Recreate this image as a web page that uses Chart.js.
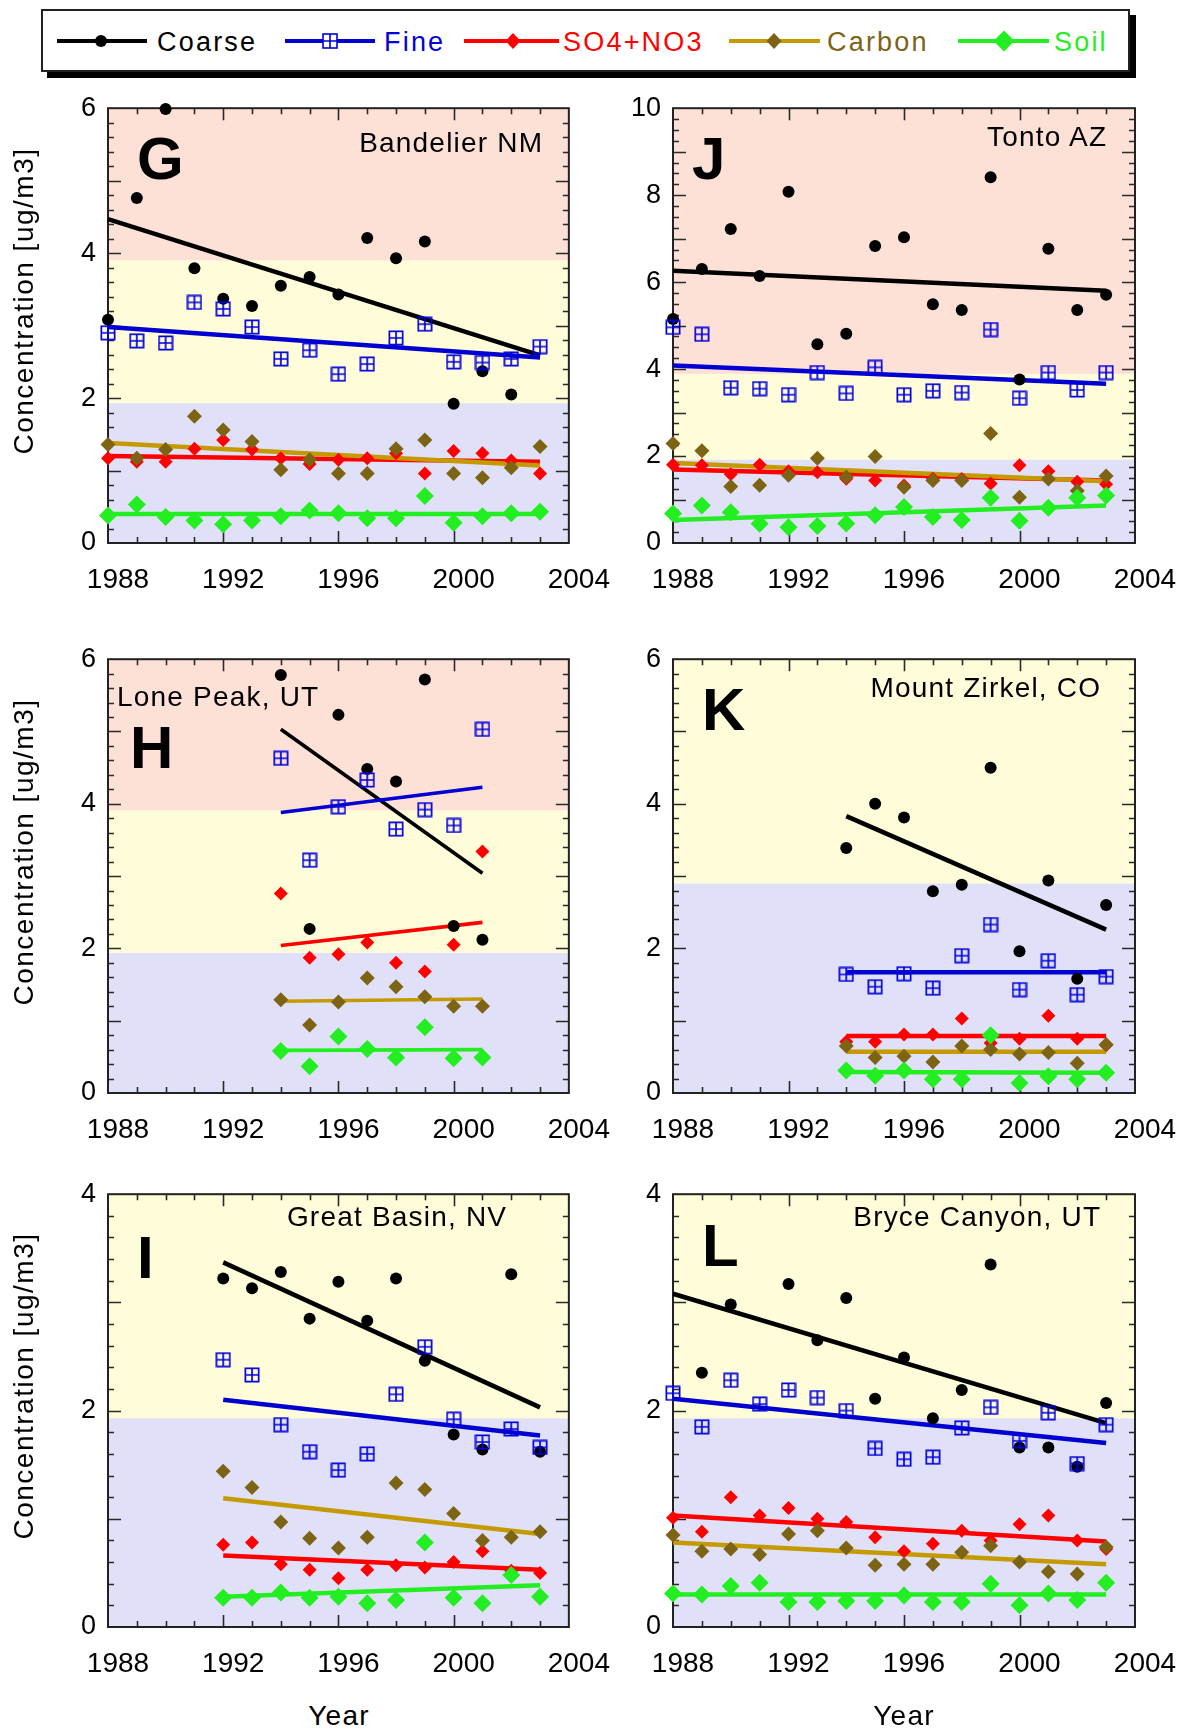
<!DOCTYPE html>
<html><head><meta charset="utf-8">
<script src="https://cdn.jsdelivr.net/npm/chart.js@4.4.1/dist/chart.umd.min.js"></script>
<style>
html,body{margin:0;padding:0;background:#fff;}
body{width:1187px;height:1733px;position:relative;overflow:hidden;font-family:'Liberation Sans',Arial,Helvetica,sans-serif;}
canvas{position:absolute;}
.t{position:absolute;white-space:nowrap;line-height:1;}
#legendBox{position:absolute;left:41px;top:9px;width:1089px;height:63px;box-sizing:border-box;border:2px solid #222;background:#fff;box-shadow:6px 6px 0 0 #000;}
.lline{position:absolute;height:4px;}
svg.mk{position:absolute;overflow:visible;}
</style></head><body>
<div id="legendBox"></div>
<canvas id="cG"></canvas><canvas id="cJ"></canvas>
<canvas id="cH"></canvas><canvas id="cK"></canvas>
<canvas id="cI"></canvas><canvas id="cL"></canvas>
<script>
// ---------------- DATA ----------------
const SERIES = ['Coarse', 'Fine', 'SO4+NO3', 'Carbon', 'Soil'];
const XTICKS = [1988, 1992, 1996, 2000, 2004];

// G - Bandelier NM
const G_years  = [1988,1989,1990,1991,1992,1993,1994,1995,1996,1997,1998,1999,2000,2001,2002,2003];
const G_coarse = [3.08,4.76,5.99,3.79,3.37,3.27,3.55,3.67,3.43,4.21,3.93,4.16,1.92,2.37,2.05,null];
const G_fine   = [2.90,2.79,2.76,3.32,3.23,2.98,2.54,2.66,2.33,2.47,2.83,3.02,2.50,2.49,2.54,2.71];
const G_so4    = [1.17,1.12,1.12,1.30,1.42,1.29,1.17,1.09,1.15,1.17,1.24,0.96,1.27,1.24,1.14,0.96];
const G_carbon = [1.36,1.17,1.29,1.75,1.56,1.40,1.01,1.15,0.96,0.96,1.30,1.42,0.96,0.90,1.04,1.33];
const G_soil   = [0.38,0.53,0.36,0.31,0.26,0.31,0.37,0.45,0.41,0.34,0.34,0.65,0.28,0.37,0.41,0.43];
const G_trendYears = [1988, 2003];
const G_trendStart = [4.47, 2.98, 1.20, 1.38, 0.40];
const G_trendEnd   = [2.59, 2.56, 1.12, 1.07, 0.40];
const G_bands = [1.93, 3.90];

// J - Tonto AZ
const J_years  = [1988,1989,1990,1991,1992,1993,1994,1995,1996,1997,1998,1999,2000,2001,2002,2003];
const J_coarse = [5.15,6.30,7.22,6.14,8.08,4.57,4.81,6.83,7.03,5.49,5.36,8.41,3.76,6.77,5.36,5.71];
const J_fine   = [4.96,4.80,3.57,3.55,3.41,3.92,3.44,4.04,3.41,3.50,3.46,4.91,3.33,3.92,3.52,3.92];
const J_so4    = [1.80,1.79,1.58,1.80,1.65,1.63,1.48,1.44,1.32,1.48,1.47,1.37,1.79,1.65,1.41,1.35];
const J_carbon = [2.29,2.12,1.30,1.33,1.56,1.95,1.52,1.99,1.28,1.44,1.44,2.52,1.05,1.47,1.20,1.54];
const J_soil   = [0.68,0.86,0.71,0.44,0.36,0.39,0.45,0.64,0.83,0.60,0.53,1.04,0.51,0.81,1.04,1.09];
const J_trendYears = [1988, 2003];
const J_trendStart = [6.26, 4.08, 1.69, 1.84, 0.53];
const J_trendEnd   = [5.80, 3.66, 1.44, 1.42, 0.86];
const J_bands = [1.92, 3.89];

// H - Lone Peak, UT
const H_years  = [1994,1995,1996,1997,1998,1999,2000,2001];
const H_coarse = [5.78,2.27,5.23,4.48,4.31,5.72,2.31,2.12];
const H_fine   = [4.63,3.22,3.96,4.33,3.65,3.92,3.70,5.03];
const H_so4    = [2.76,1.87,1.92,2.08,1.80,1.68,2.05,3.34];
const H_carbon = [1.29,0.94,1.26,1.59,1.47,1.33,1.20,1.20];
const H_soil   = [0.58,0.37,0.78,0.61,0.49,0.91,0.48,0.49];
const H_trendYears = [1994, 2001];
const H_trendStart = [5.03, 3.88, 2.04, 1.27, 0.59];
const H_trendEnd   = [3.04, 4.23, 2.36, 1.30, 0.60];
const H_bands = [1.94, 3.91];

// K - Mount Zirkel, CO
const K_years  = [1994,1995,1996,1997,1998,1999,2000,2001,2002,2003];
const K_coarse = [3.39,4.00,3.81,2.79,2.88,4.50,1.96,2.94,1.58,2.60];
const K_fine   = [1.64,1.47,1.65,1.45,1.90,2.33,1.43,1.83,1.36,1.61];
const K_so4    = [0.71,0.71,0.81,0.81,1.03,0.69,0.75,1.07,0.75,0.66];
const K_carbon = [0.65,0.49,0.51,0.43,0.65,0.60,0.54,0.56,0.41,0.67];
const K_soil   = [0.31,0.24,0.31,0.19,0.19,0.80,0.14,0.23,0.19,0.28];
const K_trendYears = [1994, 2003];
const K_trendStart = [3.83, 1.67, 0.79, 0.57, 0.29];
const K_trendEnd   = [2.26, 1.67, 0.79, 0.57, 0.28];
const K_bands = [2.90];

// I - Great Basin, NV
const I_years  = [1992,1993,1994,1995,1996,1997,1998,1999,2000,2001,2002,2003];
const I_coarse = [3.22,3.13,3.28,2.85,3.19,2.83,3.22,2.46,1.78,1.64,3.26,1.62];
const I_fine   = [2.47,2.33,1.87,1.62,1.45,1.60,2.15,2.59,1.92,1.71,1.83,1.66];
const I_so4    = [0.76,0.78,0.58,0.53,0.45,0.53,0.57,0.55,0.60,0.70,0.52,0.50];
const I_carbon = [1.44,1.29,0.97,0.82,0.73,0.83,1.33,1.27,1.05,0.80,0.83,0.88];
const I_soil   = [0.27,0.27,0.32,0.27,0.28,0.22,0.25,0.78,0.27,0.22,0.48,0.28];
const I_trendYears = [1992, 2003];
const I_trendStart = [3.37, 2.10, 0.66, 1.19, 0.28];
const I_trendEnd   = [2.03, 1.77, 0.53, 0.86, 0.385];
const I_bands = [1.93];

// L - Bryce Canyon, UT
const L_years  = [1988,1989,1990,1991,1992,1993,1994,1995,1996,1997,1998,1999,2000,2001,2002,2003];
const L_coarse = [null,2.35,2.98,null,3.17,2.65,3.04,2.11,2.49,1.93,2.19,3.35,1.66,1.66,1.48,2.07];
const L_fine   = [2.16,1.85,2.28,2.06,2.19,2.12,2.00,1.65,1.55,1.57,1.84,2.03,1.72,1.98,1.51,1.87];
const L_so4    = [1.01,0.88,1.20,1.03,1.10,1.00,0.97,0.83,0.70,0.77,0.89,0.80,0.95,1.03,0.80,0.72];
const L_carbon = [0.85,0.70,0.72,0.67,0.86,0.89,0.73,0.57,0.58,0.58,0.69,0.75,0.60,0.51,0.49,0.74];
const L_soil   = [0.31,0.30,0.38,0.41,0.23,0.23,0.24,0.24,0.29,0.23,0.23,0.40,0.20,0.31,0.25,0.41];
const L_trendYears = [1988, 2003];
const L_trendStart = [3.08, 2.11, 1.03, 0.78, 0.30];
const L_trendEnd   = [1.885, 1.70, 0.79, 0.58, 0.30];
const L_bands = [1.93];

// ---------------- STYLE ----------------
const FONT = "'Liberation Sans', Arial, Helvetica, sans-serif";
const C_COARSE = '#000000', C_FINE = '#0000d0', C_SO4 = '#ff0000';
const C_CARB_LINE = '#c49a00', C_CARB_MK = '#7d6414', C_SOIL = '#22ee22';
const LINE_COLORS = [C_COARSE, C_FINE, C_SO4, C_CARB_LINE, C_SOIL];
const BAND_COLORS = ['#e0e0f8', '#fefcd9', '#fde0d6'];

function fineMarker(){
  const c = document.createElement('canvas'); c.width = 16; c.height = 16;
  const g = c.getContext('2d');
  g.strokeStyle = '#0000dd'; g.lineWidth = 1.7;
  g.strokeRect(1.35, 1.35, 13.3, 13.3);
  g.beginPath(); g.moveTo(8, 1.5); g.lineTo(8, 14.5); g.moveTo(1.5, 8); g.lineTo(14.5, 8); g.stroke();
  return c;
}
const FINE_IMG = fineMarker();

const framePlugin = {
  id: 'frameBands',
  beforeDatasetsDraw(chart, args, opts) {
    const {ctx, chartArea: a, scales: {x, y}} = chart;
    ctx.save();
    const edges = [y.min, ...opts.bands, y.max];
    for (let i = 0; i < edges.length - 1; i++) {
      const top = y.getPixelForValue(edges[i + 1]);
      const bot = y.getPixelForValue(edges[i]);
      ctx.fillStyle = BAND_COLORS[i];
      ctx.fillRect(a.left, top, a.right - a.left, bot - top);
    }
    ctx.strokeStyle = '#2a2a2a';
    ctx.lineWidth = 1.6;
    ctx.beginPath();
    const n = Math.round((y.max - y.min) / opts.minor);
    for (let i = 1; i < n; i++) {
      const v = y.min + i * opts.minor;
      const major = Math.abs(v - Math.round(v)) < 1e-6;
      const len = major ? 13 : 6;
      const py = Math.round(y.getPixelForValue(v)) + 0.5;
      ctx.moveTo(a.left, py); ctx.lineTo(a.left + len, py);
      ctx.moveTo(a.right, py); ctx.lineTo(a.right - len, py);
    }
    for (let yr = x.min + 1; yr < x.max; yr++) {
      const major = (yr - x.min) % 4 === 0;
      const len = major ? 12 : 6;
      const px = Math.round(x.getPixelForValue(yr)) + 0.5;
      ctx.moveTo(px, a.bottom); ctx.lineTo(px, a.bottom - len);
      ctx.moveTo(px, a.top); ctx.lineTo(px, a.top + len);
    }
    ctx.stroke();
    ctx.lineWidth = 2;
    ctx.strokeStyle = '#222';
    ctx.strokeRect(a.left, a.top, a.right - a.left, a.bottom - a.top);
    ctx.restore();
  }
};

function makePanel(id, pos, years, series, trendYears, trendStart, trendEnd, ymax, minor, bands, lw) {
  const cv = document.getElementById(id);
  cv.width = pos.w; cv.height = pos.h;
  cv.style.left = pos.left + 'px'; cv.style.top = pos.top + 'px';
  cv.style.width = pos.w + 'px'; cv.style.height = pos.h + 'px';
  const pts = arr => years.map((yr, i) => ({x: yr, y: arr[i]})).filter(p => p.y !== null);
  const trend = k => [{x: trendYears[0], y: trendStart[k]}, {x: trendYears[1], y: trendEnd[k]}];
  const datasets = [
    {type: 'scatter', label: 'Soil', data: pts(series[4]), pointStyle: 'rectRot', pointRadius: 9, backgroundColor: C_SOIL, borderWidth: 0, order: 1, clip: false},
    {type: 'scatter', label: 'Carbon', data: pts(series[3]), pointStyle: 'rectRot', pointRadius: 7.5, backgroundColor: C_CARB_MK, borderWidth: 0, order: 2, clip: false},
    {type: 'scatter', label: 'SO4+NO3', data: pts(series[2]), pointStyle: 'rectRot', pointRadius: 7, backgroundColor: C_SO4, borderWidth: 0, order: 3, clip: false},
    {type: 'scatter', label: 'Fine', data: pts(series[1]), pointStyle: FINE_IMG, pointRadius: 8, order: 4, clip: false},
    {type: 'scatter', label: 'Coarse', data: pts(series[0]), pointStyle: 'circle', pointRadius: 6, backgroundColor: C_COARSE, borderWidth: 0, order: 5, clip: false},
  ];
  for (let k = 0; k < 5; k++) {
    datasets.push({type: 'line', label: SERIES[k] + ' trend', data: trend(k), borderColor: LINE_COLORS[k],
      borderWidth: lw, pointRadius: 0, fill: false, tension: 0, order: 10 - k, clip: false});
  }
  new Chart(cv, {
    type: 'scatter',
    data: {datasets},
    options: {
      responsive: false, animation: false, devicePixelRatio: 1,
      layout: {padding: {left: 0, right: pos.padR, top: 20, bottom: 0}},
      plugins: {legend: {display: false}, tooltip: {enabled: false}, frameBands: {bands, minor}},
      events: [],
      scales: {
        x: {type: 'linear', min: XTICKS[0], max: XTICKS[XTICKS.length - 1], position: 'bottom',
          afterBuildTicks: s => { s.ticks = XTICKS.map(v => ({value: v})); },
          ticks: {callback: v => String(v), font: {family: FONT, size: 28}, color: '#000', padding: 20,
            labelOffset: 10, maxRotation: 0, autoSkip: false},
          grid: {display: false, drawTicks: false}, border: {display: false},
          afterFit: s => { s.height = 57; }},
        y: {type: 'linear', min: 0, max: ymax, position: 'left',
          ticks: {stepSize: 2, font: {family: FONT, size: 27}, color: '#000', padding: 12},
          grid: {display: false, drawTicks: false}, border: {display: false},
          afterFit: s => { s.width = pos.yw; }}
      }
    },
    plugins: [framePlugin]
  });
}

const LEFT = {left: 0, w: 620, padR: 51, yw: 108};
const RIGHT = {left: 600, w: 587, padR: 52, yw: 73};
const ROW1 = {top: 80, h: 520}, ROW2 = {top: 631, h: 519}, ROW3 = {top: 1166, h: 518};
const P = (c, r) => Object.assign({}, c, r);

makePanel('cG', P(LEFT, ROW1), G_years, [G_coarse, G_fine, G_so4, G_carbon, G_soil], G_trendYears, G_trendStart, G_trendEnd, 6, 0.2, G_bands, 4.5);
makePanel('cJ', P(RIGHT, ROW1), J_years, [J_coarse, J_fine, J_so4, J_carbon, J_soil], J_trendYears, J_trendStart, J_trendEnd, 10, 0.25, J_bands, 4.5);
makePanel('cH', P(LEFT, ROW2), H_years, [H_coarse, H_fine, H_so4, H_carbon, H_soil], H_trendYears, H_trendStart, H_trendEnd, 6, 0.2, H_bands, 3.6);
makePanel('cK', P(RIGHT, ROW2), K_years, [K_coarse, K_fine, K_so4, K_carbon, K_soil], K_trendYears, K_trendStart, K_trendEnd, 6, 0.2, K_bands, 4.5);
makePanel('cI', P(LEFT, ROW3), I_years, [I_coarse, I_fine, I_so4, I_carbon, I_soil], I_trendYears, I_trendStart, I_trendEnd, 4, 0.2, I_bands, 4.5);
makePanel('cL', P(RIGHT, ROW3), L_years, [L_coarse, L_fine, L_so4, L_carbon, L_soil], L_trendYears, L_trendStart, L_trendEnd, 4, 0.2, L_bands, 4.5);

// ---------------- TEXT ----------------
function addText(txt, o) {
  const d = document.createElement('div');
  d.className = 't';
  d.textContent = txt;
  const size = o.size;
  d.style.fontSize = size + 'px';
  d.style.fontWeight = o.bold ? 'bold' : 'normal';
  d.style.letterSpacing = (o.ls || 0) + 'px';
  d.style.color = o.color || '#000';
  d.style.top = (o.base - 0.8465 * size) + 'px';
  if (o.xr !== undefined) d.style.right = (1187 - o.xr - (o.ls || 0)) + 'px';
  else if (o.xc !== undefined) { d.style.left = (o.xc - 300) + 'px'; d.style.width = '600px'; d.style.textAlign = 'center'; }
  else d.style.left = o.x + 'px';
  document.body.appendChild(d);
  return d;
}
function addYTitle(cx, cy) {
  const F = 28;
  const d = document.createElement('div');
  d.className = 't';
  d.textContent = 'Concentration [ug/m3]';
  d.style.fontSize = F + 'px'; d.style.lineHeight = F + 'px';
  d.style.letterSpacing = '1.5px';
  d.style.width = '500px'; d.style.textAlign = 'center';
  d.style.left = (cx - 250) + 'px'; d.style.top = (cy - F / 2) + 'px';
  d.style.transform = 'rotate(-90deg)';
  document.body.appendChild(d);
}
const SITE = {size: 28, ls: 1.2};
addText('Bandelier NM', Object.assign({xr: 542, base: 153}, SITE));
addText('Tonto AZ', Object.assign({xr: 1106, base: 147}, SITE));
addText('Lone Peak, UT', Object.assign({x: 117, base: 707}, SITE));
addText('Mount Zirkel, CO', Object.assign({xr: 1100, base: 698}, SITE));
addText('Great Basin, NV', Object.assign({xr: 506, base: 1227}, SITE));
addText('Bryce Canyon, UT', Object.assign({xr: 1100, base: 1227}, SITE));
const LET = {size: 60, bold: true};
addText('G', Object.assign({x: 137, base: 180}, LET));
addText('J', Object.assign({x: 692, base: 180}, LET));
addText('H', Object.assign({x: 130, base: 769}, LET));
addText('K', Object.assign({x: 702, base: 731}, LET));
addText('I', Object.assign({x: 137, base: 1279}, LET));
addText('L', Object.assign({x: 702, base: 1267}, LET));
addYTitle(24, 301);
addYTitle(24, 852);
addYTitle(24, 1386);
addText('Year', {xc: 339, base: 1726, size: 28, ls: 1.2});
addText('Year', {xc: 904, base: 1726, size: 28, ls: 1.2});

// ---------------- LEGEND ----------------
const LEG_LINE_X = [[57, 147], [285, 375], [464, 559], [729, 820], [958, 1049]];
const LEG_TEXT_X = [157, 384, 563, 827, 1054];
const LEG_TEXT_C = ['#000', '#0000dd', '#ff0000', C_CARB_MK, C_SOIL];
const LEG_Y = 41;
function svgMarker(cx, cy, inner, r) {
  const ns = 'http://www.w3.org/2000/svg';
  const s = document.createElementNS(ns, 'svg');
  s.setAttribute('class', 'mk');
  s.setAttribute('width', 2 * r); s.setAttribute('height', 2 * r);
  s.setAttribute('viewBox', `${-r} ${-r} ${2 * r} ${2 * r}`);
  s.style.left = (cx - r) + 'px'; s.style.top = (cy - r) + 'px';
  s.innerHTML = inner;
  document.body.appendChild(s);
}
for (let k = 0; k < 5; k++) {
  const l = document.createElement('div');
  l.className = 'lline';
  l.style.left = LEG_LINE_X[k][0] + 'px';
  l.style.width = (LEG_LINE_X[k][1] - LEG_LINE_X[k][0]) + 'px';
  l.style.top = (LEG_Y - 2) + 'px';
  l.style.background = LINE_COLORS[k];
  document.body.appendChild(l);
  addText(SERIES[k], {x: LEG_TEXT_X[k], base: 52, size: 27, ls: 2.2, color: LEG_TEXT_C[k]});
}
svgMarker(101, LEG_Y, '<circle r="6" fill="#000"/>', 7);
svgMarker(330, LEG_Y, '<rect x="-7" y="-7" width="14" height="14" fill="#fff" stroke="#0000dd" stroke-width="1.6"/><path d="M0 -7V7M-7 0H7" stroke="#0000dd" stroke-width="1.6"/>', 9);
svgMarker(513, LEG_Y, '<path d="M0 -8L7.5 0L0 8L-7.5 0Z" fill="#ff0000"/>', 9);
svgMarker(774, LEG_Y, '<path d="M0 -8L7.5 0L0 8L-7.5 0Z" fill="' + C_CARB_MK + '"/>', 9);
svgMarker(1004, LEG_Y, '<path d="M0 -10.5L10.5 0L0 10.5L-10.5 0Z" fill="' + C_SOIL + '"/>', 11);
</script>
</body></html>
